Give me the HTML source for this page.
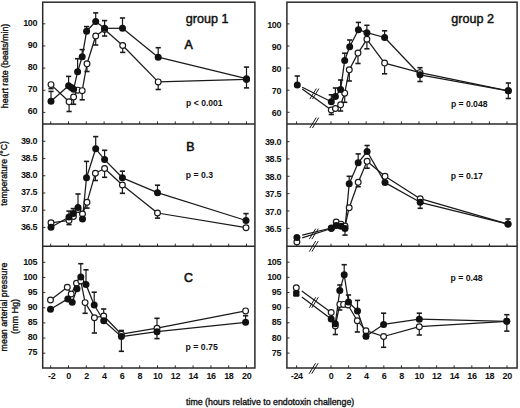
<!DOCTYPE html>
<html><head><meta charset="utf-8"><style>
html,body{margin:0;padding:0;background:#fff;width:520px;height:408px;overflow:hidden}
svg{display:block}
text{font-family:"Liberation Sans",sans-serif;fill:#111}
</style></head><body>
<svg width="520" height="408" viewBox="0 0 520 408">
<rect width="520" height="408" fill="#fff"/>
<rect x="42.7" y="2.2" width="212.20" height="365.80" fill="none" stroke="#2a2a2a" stroke-width="1.5"/>
<line x1="42.70" y1="124.00" x2="254.90" y2="124.00" stroke="#2a2a2a" stroke-width="1.5"/>
<line x1="42.70" y1="246.30" x2="254.90" y2="246.30" stroke="#2a2a2a" stroke-width="1.5"/>
<rect x="286.9" y="2.2" width="230.20" height="365.80" fill="none" stroke="#2a2a2a" stroke-width="1.5"/>
<line x1="286.90" y1="124.00" x2="517.10" y2="124.00" stroke="#2a2a2a" stroke-width="1.5"/>
<line x1="286.90" y1="246.30" x2="517.10" y2="246.30" stroke="#2a2a2a" stroke-width="1.5"/>
<line x1="50.70" y1="124.00" x2="50.70" y2="121.40" stroke="#2a2a2a" stroke-width="1.0"/>
<line x1="68.50" y1="124.00" x2="68.50" y2="121.40" stroke="#2a2a2a" stroke-width="1.0"/>
<line x1="86.30" y1="124.00" x2="86.30" y2="121.40" stroke="#2a2a2a" stroke-width="1.0"/>
<line x1="104.10" y1="124.00" x2="104.10" y2="121.40" stroke="#2a2a2a" stroke-width="1.0"/>
<line x1="121.90" y1="124.00" x2="121.90" y2="121.40" stroke="#2a2a2a" stroke-width="1.0"/>
<line x1="139.70" y1="124.00" x2="139.70" y2="121.40" stroke="#2a2a2a" stroke-width="1.0"/>
<line x1="157.50" y1="124.00" x2="157.50" y2="121.40" stroke="#2a2a2a" stroke-width="1.0"/>
<line x1="175.30" y1="124.00" x2="175.30" y2="121.40" stroke="#2a2a2a" stroke-width="1.0"/>
<line x1="193.10" y1="124.00" x2="193.10" y2="121.40" stroke="#2a2a2a" stroke-width="1.0"/>
<line x1="210.90" y1="124.00" x2="210.90" y2="121.40" stroke="#2a2a2a" stroke-width="1.0"/>
<line x1="228.70" y1="124.00" x2="228.70" y2="121.40" stroke="#2a2a2a" stroke-width="1.0"/>
<line x1="246.50" y1="124.00" x2="246.50" y2="121.40" stroke="#2a2a2a" stroke-width="1.0"/>
<line x1="296.60" y1="124.00" x2="296.60" y2="121.40" stroke="#2a2a2a" stroke-width="1.0"/>
<line x1="331.00" y1="124.00" x2="331.00" y2="121.40" stroke="#2a2a2a" stroke-width="1.0"/>
<line x1="348.60" y1="124.00" x2="348.60" y2="121.40" stroke="#2a2a2a" stroke-width="1.0"/>
<line x1="366.20" y1="124.00" x2="366.20" y2="121.40" stroke="#2a2a2a" stroke-width="1.0"/>
<line x1="383.80" y1="124.00" x2="383.80" y2="121.40" stroke="#2a2a2a" stroke-width="1.0"/>
<line x1="401.40" y1="124.00" x2="401.40" y2="121.40" stroke="#2a2a2a" stroke-width="1.0"/>
<line x1="419.00" y1="124.00" x2="419.00" y2="121.40" stroke="#2a2a2a" stroke-width="1.0"/>
<line x1="436.60" y1="124.00" x2="436.60" y2="121.40" stroke="#2a2a2a" stroke-width="1.0"/>
<line x1="454.20" y1="124.00" x2="454.20" y2="121.40" stroke="#2a2a2a" stroke-width="1.0"/>
<line x1="471.80" y1="124.00" x2="471.80" y2="121.40" stroke="#2a2a2a" stroke-width="1.0"/>
<line x1="489.40" y1="124.00" x2="489.40" y2="121.40" stroke="#2a2a2a" stroke-width="1.0"/>
<line x1="507.00" y1="124.00" x2="507.00" y2="121.40" stroke="#2a2a2a" stroke-width="1.0"/>
<line x1="50.70" y1="246.30" x2="50.70" y2="243.70" stroke="#2a2a2a" stroke-width="1.0"/>
<line x1="68.50" y1="246.30" x2="68.50" y2="243.70" stroke="#2a2a2a" stroke-width="1.0"/>
<line x1="86.30" y1="246.30" x2="86.30" y2="243.70" stroke="#2a2a2a" stroke-width="1.0"/>
<line x1="104.10" y1="246.30" x2="104.10" y2="243.70" stroke="#2a2a2a" stroke-width="1.0"/>
<line x1="121.90" y1="246.30" x2="121.90" y2="243.70" stroke="#2a2a2a" stroke-width="1.0"/>
<line x1="139.70" y1="246.30" x2="139.70" y2="243.70" stroke="#2a2a2a" stroke-width="1.0"/>
<line x1="157.50" y1="246.30" x2="157.50" y2="243.70" stroke="#2a2a2a" stroke-width="1.0"/>
<line x1="175.30" y1="246.30" x2="175.30" y2="243.70" stroke="#2a2a2a" stroke-width="1.0"/>
<line x1="193.10" y1="246.30" x2="193.10" y2="243.70" stroke="#2a2a2a" stroke-width="1.0"/>
<line x1="210.90" y1="246.30" x2="210.90" y2="243.70" stroke="#2a2a2a" stroke-width="1.0"/>
<line x1="228.70" y1="246.30" x2="228.70" y2="243.70" stroke="#2a2a2a" stroke-width="1.0"/>
<line x1="246.50" y1="246.30" x2="246.50" y2="243.70" stroke="#2a2a2a" stroke-width="1.0"/>
<line x1="296.60" y1="246.30" x2="296.60" y2="243.70" stroke="#2a2a2a" stroke-width="1.0"/>
<line x1="331.00" y1="246.30" x2="331.00" y2="243.70" stroke="#2a2a2a" stroke-width="1.0"/>
<line x1="348.60" y1="246.30" x2="348.60" y2="243.70" stroke="#2a2a2a" stroke-width="1.0"/>
<line x1="366.20" y1="246.30" x2="366.20" y2="243.70" stroke="#2a2a2a" stroke-width="1.0"/>
<line x1="383.80" y1="246.30" x2="383.80" y2="243.70" stroke="#2a2a2a" stroke-width="1.0"/>
<line x1="401.40" y1="246.30" x2="401.40" y2="243.70" stroke="#2a2a2a" stroke-width="1.0"/>
<line x1="419.00" y1="246.30" x2="419.00" y2="243.70" stroke="#2a2a2a" stroke-width="1.0"/>
<line x1="436.60" y1="246.30" x2="436.60" y2="243.70" stroke="#2a2a2a" stroke-width="1.0"/>
<line x1="454.20" y1="246.30" x2="454.20" y2="243.70" stroke="#2a2a2a" stroke-width="1.0"/>
<line x1="471.80" y1="246.30" x2="471.80" y2="243.70" stroke="#2a2a2a" stroke-width="1.0"/>
<line x1="489.40" y1="246.30" x2="489.40" y2="243.70" stroke="#2a2a2a" stroke-width="1.0"/>
<line x1="507.00" y1="246.30" x2="507.00" y2="243.70" stroke="#2a2a2a" stroke-width="1.0"/>
<line x1="50.70" y1="368.00" x2="50.70" y2="365.40" stroke="#2a2a2a" stroke-width="1.0"/>
<line x1="68.50" y1="368.00" x2="68.50" y2="365.40" stroke="#2a2a2a" stroke-width="1.0"/>
<line x1="86.30" y1="368.00" x2="86.30" y2="365.40" stroke="#2a2a2a" stroke-width="1.0"/>
<line x1="104.10" y1="368.00" x2="104.10" y2="365.40" stroke="#2a2a2a" stroke-width="1.0"/>
<line x1="121.90" y1="368.00" x2="121.90" y2="365.40" stroke="#2a2a2a" stroke-width="1.0"/>
<line x1="139.70" y1="368.00" x2="139.70" y2="365.40" stroke="#2a2a2a" stroke-width="1.0"/>
<line x1="157.50" y1="368.00" x2="157.50" y2="365.40" stroke="#2a2a2a" stroke-width="1.0"/>
<line x1="175.30" y1="368.00" x2="175.30" y2="365.40" stroke="#2a2a2a" stroke-width="1.0"/>
<line x1="193.10" y1="368.00" x2="193.10" y2="365.40" stroke="#2a2a2a" stroke-width="1.0"/>
<line x1="210.90" y1="368.00" x2="210.90" y2="365.40" stroke="#2a2a2a" stroke-width="1.0"/>
<line x1="228.70" y1="368.00" x2="228.70" y2="365.40" stroke="#2a2a2a" stroke-width="1.0"/>
<line x1="246.50" y1="368.00" x2="246.50" y2="365.40" stroke="#2a2a2a" stroke-width="1.0"/>
<line x1="296.60" y1="368.00" x2="296.60" y2="365.40" stroke="#2a2a2a" stroke-width="1.0"/>
<line x1="331.00" y1="368.00" x2="331.00" y2="365.40" stroke="#2a2a2a" stroke-width="1.0"/>
<line x1="348.60" y1="368.00" x2="348.60" y2="365.40" stroke="#2a2a2a" stroke-width="1.0"/>
<line x1="366.20" y1="368.00" x2="366.20" y2="365.40" stroke="#2a2a2a" stroke-width="1.0"/>
<line x1="383.80" y1="368.00" x2="383.80" y2="365.40" stroke="#2a2a2a" stroke-width="1.0"/>
<line x1="401.40" y1="368.00" x2="401.40" y2="365.40" stroke="#2a2a2a" stroke-width="1.0"/>
<line x1="419.00" y1="368.00" x2="419.00" y2="365.40" stroke="#2a2a2a" stroke-width="1.0"/>
<line x1="436.60" y1="368.00" x2="436.60" y2="365.40" stroke="#2a2a2a" stroke-width="1.0"/>
<line x1="454.20" y1="368.00" x2="454.20" y2="365.40" stroke="#2a2a2a" stroke-width="1.0"/>
<line x1="471.80" y1="368.00" x2="471.80" y2="365.40" stroke="#2a2a2a" stroke-width="1.0"/>
<line x1="489.40" y1="368.00" x2="489.40" y2="365.40" stroke="#2a2a2a" stroke-width="1.0"/>
<line x1="507.00" y1="368.00" x2="507.00" y2="365.40" stroke="#2a2a2a" stroke-width="1.0"/>
<text x="51.77" y="379.30" font-size="9.0" font-weight="bold" text-anchor="middle" letter-spacing="-0.35" >-2</text>
<text x="68.67" y="379.30" font-size="9.0" font-weight="bold" text-anchor="middle" letter-spacing="-0.35" >0</text>
<text x="86.47" y="379.30" font-size="9.0" font-weight="bold" text-anchor="middle" letter-spacing="-0.35" >2</text>
<text x="104.27" y="379.30" font-size="9.0" font-weight="bold" text-anchor="middle" letter-spacing="-0.35" >4</text>
<text x="122.08" y="379.30" font-size="9.0" font-weight="bold" text-anchor="middle" letter-spacing="-0.35" >6</text>
<text x="139.88" y="379.30" font-size="9.0" font-weight="bold" text-anchor="middle" letter-spacing="-0.35" >8</text>
<text x="157.68" y="379.30" font-size="9.0" font-weight="bold" text-anchor="middle" letter-spacing="-0.35" >10</text>
<text x="175.48" y="379.30" font-size="9.0" font-weight="bold" text-anchor="middle" letter-spacing="-0.35" >12</text>
<text x="193.28" y="379.30" font-size="9.0" font-weight="bold" text-anchor="middle" letter-spacing="-0.35" >14</text>
<text x="211.08" y="379.30" font-size="9.0" font-weight="bold" text-anchor="middle" letter-spacing="-0.35" >16</text>
<text x="228.88" y="379.30" font-size="9.0" font-weight="bold" text-anchor="middle" letter-spacing="-0.35" >18</text>
<text x="246.68" y="379.30" font-size="9.0" font-weight="bold" text-anchor="middle" letter-spacing="-0.35" >20</text>
<text x="296.78" y="379.30" font-size="9.0" font-weight="bold" text-anchor="middle" letter-spacing="-0.35" >-24</text>
<text x="331.18" y="379.30" font-size="9.0" font-weight="bold" text-anchor="middle" letter-spacing="-0.35" >0</text>
<text x="348.78" y="379.30" font-size="9.0" font-weight="bold" text-anchor="middle" letter-spacing="-0.35" >2</text>
<text x="366.38" y="379.30" font-size="9.0" font-weight="bold" text-anchor="middle" letter-spacing="-0.35" >4</text>
<text x="383.98" y="379.30" font-size="9.0" font-weight="bold" text-anchor="middle" letter-spacing="-0.35" >6</text>
<text x="401.57" y="379.30" font-size="9.0" font-weight="bold" text-anchor="middle" letter-spacing="-0.35" >8</text>
<text x="419.18" y="379.30" font-size="9.0" font-weight="bold" text-anchor="middle" letter-spacing="-0.35" >10</text>
<text x="436.78" y="379.30" font-size="9.0" font-weight="bold" text-anchor="middle" letter-spacing="-0.35" >12</text>
<text x="454.38" y="379.30" font-size="9.0" font-weight="bold" text-anchor="middle" letter-spacing="-0.35" >14</text>
<text x="471.98" y="379.30" font-size="9.0" font-weight="bold" text-anchor="middle" letter-spacing="-0.35" >16</text>
<text x="489.57" y="379.30" font-size="9.0" font-weight="bold" text-anchor="middle" letter-spacing="-0.35" >18</text>
<text x="507.18" y="379.30" font-size="9.0" font-weight="bold" text-anchor="middle" letter-spacing="-0.35" >20</text>
<line x1="42.70" y1="112.40" x2="45.30" y2="112.40" stroke="#2a2a2a" stroke-width="1.0"/>
<text x="37.10" y="114.40" font-size="9.0" font-weight="bold" text-anchor="end" letter-spacing="-0.35" >60</text>
<line x1="286.90" y1="112.30" x2="289.50" y2="112.30" stroke="#2a2a2a" stroke-width="1.0"/>
<text x="281.10" y="116.40" font-size="9.0" font-weight="bold" text-anchor="end" letter-spacing="-0.35" >60</text>
<line x1="42.70" y1="90.25" x2="45.30" y2="90.25" stroke="#2a2a2a" stroke-width="1.0"/>
<text x="37.10" y="92.25" font-size="9.0" font-weight="bold" text-anchor="end" letter-spacing="-0.35" >70</text>
<line x1="286.90" y1="90.20" x2="289.50" y2="90.20" stroke="#2a2a2a" stroke-width="1.0"/>
<text x="281.10" y="94.30" font-size="9.0" font-weight="bold" text-anchor="end" letter-spacing="-0.35" >70</text>
<line x1="42.70" y1="68.10" x2="45.30" y2="68.10" stroke="#2a2a2a" stroke-width="1.0"/>
<text x="37.10" y="70.10" font-size="9.0" font-weight="bold" text-anchor="end" letter-spacing="-0.35" >80</text>
<line x1="286.90" y1="68.10" x2="289.50" y2="68.10" stroke="#2a2a2a" stroke-width="1.0"/>
<text x="281.10" y="72.20" font-size="9.0" font-weight="bold" text-anchor="end" letter-spacing="-0.35" >80</text>
<line x1="42.70" y1="45.95" x2="45.30" y2="45.95" stroke="#2a2a2a" stroke-width="1.0"/>
<text x="37.10" y="47.95" font-size="9.0" font-weight="bold" text-anchor="end" letter-spacing="-0.35" >90</text>
<line x1="286.90" y1="46.00" x2="289.50" y2="46.00" stroke="#2a2a2a" stroke-width="1.0"/>
<text x="281.10" y="50.10" font-size="9.0" font-weight="bold" text-anchor="end" letter-spacing="-0.35" >90</text>
<line x1="42.70" y1="23.80" x2="45.30" y2="23.80" stroke="#2a2a2a" stroke-width="1.0"/>
<text x="37.10" y="25.80" font-size="9.0" font-weight="bold" text-anchor="end" letter-spacing="-0.35" >100</text>
<line x1="286.90" y1="23.90" x2="289.50" y2="23.90" stroke="#2a2a2a" stroke-width="1.0"/>
<text x="281.10" y="28.00" font-size="9.0" font-weight="bold" text-anchor="end" letter-spacing="-0.35" >100</text>
<line x1="42.70" y1="227.43" x2="45.30" y2="227.43" stroke="#2a2a2a" stroke-width="1.0"/>
<text x="37.10" y="229.62" font-size="9.0" font-weight="bold" text-anchor="end" letter-spacing="-0.35" >36.5</text>
<line x1="286.90" y1="228.35" x2="289.50" y2="228.35" stroke="#2a2a2a" stroke-width="1.0"/>
<text x="281.10" y="231.85" font-size="9.0" font-weight="bold" text-anchor="end" letter-spacing="-0.35" >36.5</text>
<line x1="42.70" y1="210.20" x2="45.30" y2="210.20" stroke="#2a2a2a" stroke-width="1.0"/>
<text x="37.10" y="212.40" font-size="9.0" font-weight="bold" text-anchor="end" letter-spacing="-0.35" >37.0</text>
<line x1="286.90" y1="211.00" x2="289.50" y2="211.00" stroke="#2a2a2a" stroke-width="1.0"/>
<text x="281.10" y="214.50" font-size="9.0" font-weight="bold" text-anchor="end" letter-spacing="-0.35" >37.0</text>
<line x1="42.70" y1="192.98" x2="45.30" y2="192.98" stroke="#2a2a2a" stroke-width="1.0"/>
<text x="37.10" y="195.18" font-size="9.0" font-weight="bold" text-anchor="end" letter-spacing="-0.35" >37.5</text>
<line x1="286.90" y1="193.65" x2="289.50" y2="193.65" stroke="#2a2a2a" stroke-width="1.0"/>
<text x="281.10" y="197.15" font-size="9.0" font-weight="bold" text-anchor="end" letter-spacing="-0.35" >37.5</text>
<line x1="42.70" y1="175.75" x2="45.30" y2="175.75" stroke="#2a2a2a" stroke-width="1.0"/>
<text x="37.10" y="177.95" font-size="9.0" font-weight="bold" text-anchor="end" letter-spacing="-0.35" >38.0</text>
<line x1="286.90" y1="176.30" x2="289.50" y2="176.30" stroke="#2a2a2a" stroke-width="1.0"/>
<text x="281.10" y="179.80" font-size="9.0" font-weight="bold" text-anchor="end" letter-spacing="-0.35" >38.0</text>
<line x1="42.70" y1="158.53" x2="45.30" y2="158.53" stroke="#2a2a2a" stroke-width="1.0"/>
<text x="37.10" y="160.72" font-size="9.0" font-weight="bold" text-anchor="end" letter-spacing="-0.35" >38.5</text>
<line x1="286.90" y1="158.95" x2="289.50" y2="158.95" stroke="#2a2a2a" stroke-width="1.0"/>
<text x="281.10" y="162.45" font-size="9.0" font-weight="bold" text-anchor="end" letter-spacing="-0.35" >38.5</text>
<line x1="42.70" y1="141.30" x2="45.30" y2="141.30" stroke="#2a2a2a" stroke-width="1.0"/>
<text x="37.10" y="143.50" font-size="9.0" font-weight="bold" text-anchor="end" letter-spacing="-0.35" >39.0</text>
<line x1="286.90" y1="141.60" x2="289.50" y2="141.60" stroke="#2a2a2a" stroke-width="1.0"/>
<text x="281.10" y="145.10" font-size="9.0" font-weight="bold" text-anchor="end" letter-spacing="-0.35" >39.0</text>
<line x1="42.70" y1="353.20" x2="45.30" y2="353.20" stroke="#2a2a2a" stroke-width="1.0"/>
<text x="37.10" y="355.40" font-size="9.0" font-weight="bold" text-anchor="end" letter-spacing="-0.35" >75</text>
<line x1="286.90" y1="353.10" x2="289.50" y2="353.10" stroke="#2a2a2a" stroke-width="1.0"/>
<text x="281.10" y="355.70" font-size="9.0" font-weight="bold" text-anchor="end" letter-spacing="-0.35" >75</text>
<line x1="42.70" y1="338.05" x2="45.30" y2="338.05" stroke="#2a2a2a" stroke-width="1.0"/>
<text x="37.10" y="340.25" font-size="9.0" font-weight="bold" text-anchor="end" letter-spacing="-0.35" >80</text>
<line x1="286.90" y1="337.95" x2="289.50" y2="337.95" stroke="#2a2a2a" stroke-width="1.0"/>
<text x="281.10" y="340.55" font-size="9.0" font-weight="bold" text-anchor="end" letter-spacing="-0.35" >80</text>
<line x1="42.70" y1="322.90" x2="45.30" y2="322.90" stroke="#2a2a2a" stroke-width="1.0"/>
<text x="37.10" y="325.10" font-size="9.0" font-weight="bold" text-anchor="end" letter-spacing="-0.35" >85</text>
<line x1="286.90" y1="322.80" x2="289.50" y2="322.80" stroke="#2a2a2a" stroke-width="1.0"/>
<text x="281.10" y="325.40" font-size="9.0" font-weight="bold" text-anchor="end" letter-spacing="-0.35" >85</text>
<line x1="42.70" y1="307.75" x2="45.30" y2="307.75" stroke="#2a2a2a" stroke-width="1.0"/>
<text x="37.10" y="309.95" font-size="9.0" font-weight="bold" text-anchor="end" letter-spacing="-0.35" >90</text>
<line x1="286.90" y1="307.65" x2="289.50" y2="307.65" stroke="#2a2a2a" stroke-width="1.0"/>
<text x="281.10" y="310.25" font-size="9.0" font-weight="bold" text-anchor="end" letter-spacing="-0.35" >90</text>
<line x1="42.70" y1="292.60" x2="45.30" y2="292.60" stroke="#2a2a2a" stroke-width="1.0"/>
<text x="37.10" y="294.80" font-size="9.0" font-weight="bold" text-anchor="end" letter-spacing="-0.35" >95</text>
<line x1="286.90" y1="292.50" x2="289.50" y2="292.50" stroke="#2a2a2a" stroke-width="1.0"/>
<text x="281.10" y="295.10" font-size="9.0" font-weight="bold" text-anchor="end" letter-spacing="-0.35" >95</text>
<line x1="42.70" y1="277.45" x2="45.30" y2="277.45" stroke="#2a2a2a" stroke-width="1.0"/>
<text x="37.10" y="279.65" font-size="9.0" font-weight="bold" text-anchor="end" letter-spacing="-0.35" >100</text>
<line x1="286.90" y1="277.35" x2="289.50" y2="277.35" stroke="#2a2a2a" stroke-width="1.0"/>
<text x="281.10" y="279.95" font-size="9.0" font-weight="bold" text-anchor="end" letter-spacing="-0.35" >100</text>
<line x1="42.70" y1="262.30" x2="45.30" y2="262.30" stroke="#2a2a2a" stroke-width="1.0"/>
<text x="37.10" y="264.50" font-size="9.0" font-weight="bold" text-anchor="end" letter-spacing="-0.35" >105</text>
<line x1="286.90" y1="262.20" x2="289.50" y2="262.20" stroke="#2a2a2a" stroke-width="1.0"/>
<text x="281.10" y="264.80" font-size="9.0" font-weight="bold" text-anchor="end" letter-spacing="-0.35" >105</text>
<text x="0.00" y="0.00" font-size="8.85" font-weight="normal" text-anchor="middle" stroke="#111" stroke-width="0.35" transform="translate(7.5,66.0) rotate(-90)">heart rate (beats/min)</text>
<text x="0.00" y="0.00" font-size="8.68" font-weight="normal" text-anchor="middle" stroke="#111" stroke-width="0.35" transform="translate(7.4,173.4) rotate(-90)">temperature (°C)</text>
<text x="0.00" y="0.00" font-size="8.9" font-weight="normal" text-anchor="middle" stroke="#111" stroke-width="0.35" transform="translate(7.3,307.0) rotate(-90)">mean arterial pressure</text>
<text x="0.00" y="0.00" font-size="9.0" font-weight="normal" text-anchor="middle" stroke="#111" stroke-width="0.35" transform="translate(17.6,316.4) rotate(-90)">(mm Hg)</text>
<text x="186.00" y="404.50" font-size="8.8" font-weight="normal" text-anchor="start" stroke="#111" stroke-width="0.35" >time (hours relative to endotoxin challenge)</text>
<text x="185.80" y="22.70" font-size="12.6" font-weight="normal" text-anchor="start" stroke="#111" stroke-width="0.45" >group 1</text>
<text x="451.20" y="23.10" font-size="12.6" font-weight="normal" text-anchor="start" stroke="#111" stroke-width="0.45" >group 2</text>
<text x="188.60" y="48.80" font-size="12.4" font-weight="normal" text-anchor="middle" stroke="#111" stroke-width="0.6" >A</text>
<text x="190.40" y="151.20" font-size="12.4" font-weight="normal" text-anchor="middle" stroke="#111" stroke-width="0.6" >B</text>
<text x="188.50" y="281.80" font-size="12.4" font-weight="normal" text-anchor="middle" stroke="#111" stroke-width="0.6" >C</text>
<text x="186.10" y="106.20" font-size="8.6" font-weight="bold" text-anchor="start" >p &lt; 0.001</text>
<text x="185.70" y="177.50" font-size="8.7" font-weight="bold" text-anchor="start" >p = 0.3</text>
<text x="185.60" y="350.40" font-size="8.7" font-weight="bold" text-anchor="start" >p = 0.75</text>
<text x="450.90" y="106.90" font-size="8.6" font-weight="bold" text-anchor="start" >p = 0.048</text>
<text x="450.80" y="178.60" font-size="8.7" font-weight="bold" text-anchor="start" >p = 0.17</text>
<text x="450.50" y="281.20" font-size="8.7" font-weight="bold" text-anchor="start" >p = 0.48</text>
<line x1="51.00" y1="84.60" x2="69.10" y2="101.80" stroke="#1a1a1a" stroke-width="1.25"/>
<line x1="69.10" y1="101.80" x2="73.60" y2="97.00" stroke="#1a1a1a" stroke-width="1.25"/>
<line x1="73.60" y1="97.00" x2="77.70" y2="90.20" stroke="#1a1a1a" stroke-width="1.25"/>
<line x1="77.70" y1="90.20" x2="82.20" y2="90.70" stroke="#1a1a1a" stroke-width="1.25"/>
<line x1="82.20" y1="90.70" x2="87.00" y2="63.80" stroke="#1a1a1a" stroke-width="1.25"/>
<line x1="87.00" y1="63.80" x2="95.70" y2="36.00" stroke="#1a1a1a" stroke-width="1.25"/>
<line x1="95.70" y1="36.00" x2="104.60" y2="29.50" stroke="#1a1a1a" stroke-width="1.25"/>
<line x1="104.60" y1="29.50" x2="122.70" y2="45.50" stroke="#1a1a1a" stroke-width="1.25"/>
<line x1="122.70" y1="45.50" x2="158.20" y2="81.90" stroke="#1a1a1a" stroke-width="1.25"/>
<line x1="158.20" y1="81.90" x2="246.50" y2="79.40" stroke="#1a1a1a" stroke-width="1.25"/>
<line x1="51.00" y1="101.30" x2="68.60" y2="85.70" stroke="#1a1a1a" stroke-width="1.25"/>
<line x1="68.60" y1="85.70" x2="71.30" y2="87.50" stroke="#1a1a1a" stroke-width="1.25"/>
<line x1="71.30" y1="87.50" x2="73.60" y2="89.30" stroke="#1a1a1a" stroke-width="1.25"/>
<line x1="73.60" y1="89.30" x2="77.60" y2="71.70" stroke="#1a1a1a" stroke-width="1.25"/>
<line x1="77.60" y1="71.70" x2="82.20" y2="56.80" stroke="#1a1a1a" stroke-width="1.25"/>
<line x1="82.20" y1="56.80" x2="86.60" y2="31.20" stroke="#1a1a1a" stroke-width="1.25"/>
<line x1="86.60" y1="31.20" x2="95.70" y2="21.50" stroke="#1a1a1a" stroke-width="1.25"/>
<line x1="95.70" y1="21.50" x2="104.60" y2="28.30" stroke="#1a1a1a" stroke-width="1.25"/>
<line x1="104.60" y1="28.30" x2="122.50" y2="28.30" stroke="#1a1a1a" stroke-width="1.25"/>
<line x1="122.50" y1="28.30" x2="158.20" y2="57.20" stroke="#1a1a1a" stroke-width="1.25"/>
<line x1="158.20" y1="57.20" x2="246.50" y2="78.70" stroke="#1a1a1a" stroke-width="1.25"/>
<line x1="51.00" y1="101.30" x2="51.00" y2="91.40" stroke="#1a1a1a" stroke-width="1.2"/>
<line x1="48.40" y1="91.40" x2="53.60" y2="91.40" stroke="#1a1a1a" stroke-width="1.6"/>
<line x1="68.60" y1="85.70" x2="68.60" y2="76.40" stroke="#1a1a1a" stroke-width="1.2"/>
<line x1="66.00" y1="76.40" x2="71.20" y2="76.40" stroke="#1a1a1a" stroke-width="1.6"/>
<line x1="77.60" y1="71.70" x2="77.60" y2="58.70" stroke="#1a1a1a" stroke-width="1.2"/>
<line x1="75.00" y1="58.70" x2="80.20" y2="58.70" stroke="#1a1a1a" stroke-width="1.6"/>
<line x1="82.20" y1="56.80" x2="82.20" y2="49.60" stroke="#1a1a1a" stroke-width="1.2"/>
<line x1="79.60" y1="49.60" x2="84.80" y2="49.60" stroke="#1a1a1a" stroke-width="1.6"/>
<line x1="86.60" y1="31.20" x2="86.60" y2="26.60" stroke="#1a1a1a" stroke-width="1.2"/>
<line x1="84.00" y1="26.60" x2="89.20" y2="26.60" stroke="#1a1a1a" stroke-width="1.6"/>
<line x1="95.70" y1="21.50" x2="95.70" y2="12.90" stroke="#1a1a1a" stroke-width="1.2"/>
<line x1="93.10" y1="12.90" x2="98.30" y2="12.90" stroke="#1a1a1a" stroke-width="1.6"/>
<line x1="104.60" y1="28.30" x2="104.60" y2="20.60" stroke="#1a1a1a" stroke-width="1.2"/>
<line x1="102.00" y1="20.60" x2="107.20" y2="20.60" stroke="#1a1a1a" stroke-width="1.6"/>
<line x1="122.50" y1="28.30" x2="122.50" y2="18.00" stroke="#1a1a1a" stroke-width="1.2"/>
<line x1="119.90" y1="18.00" x2="125.10" y2="18.00" stroke="#1a1a1a" stroke-width="1.6"/>
<line x1="158.20" y1="57.20" x2="158.20" y2="47.70" stroke="#1a1a1a" stroke-width="1.2"/>
<line x1="155.60" y1="47.70" x2="160.80" y2="47.70" stroke="#1a1a1a" stroke-width="1.6"/>
<line x1="246.50" y1="78.70" x2="246.50" y2="67.10" stroke="#1a1a1a" stroke-width="1.2"/>
<line x1="243.90" y1="67.10" x2="249.10" y2="67.10" stroke="#1a1a1a" stroke-width="1.6"/>
<line x1="51.00" y1="84.60" x2="51.00" y2="88.60" stroke="#1a1a1a" stroke-width="1.2"/>
<line x1="48.40" y1="88.60" x2="53.60" y2="88.60" stroke="#1a1a1a" stroke-width="1.6"/>
<line x1="69.10" y1="101.80" x2="69.10" y2="111.50" stroke="#1a1a1a" stroke-width="1.2"/>
<line x1="66.50" y1="111.50" x2="71.70" y2="111.50" stroke="#1a1a1a" stroke-width="1.6"/>
<line x1="73.60" y1="97.00" x2="73.60" y2="104.30" stroke="#1a1a1a" stroke-width="1.2"/>
<line x1="71.00" y1="104.30" x2="76.20" y2="104.30" stroke="#1a1a1a" stroke-width="1.6"/>
<line x1="82.20" y1="90.70" x2="82.20" y2="99.80" stroke="#1a1a1a" stroke-width="1.2"/>
<line x1="79.60" y1="99.80" x2="84.80" y2="99.80" stroke="#1a1a1a" stroke-width="1.6"/>
<line x1="87.00" y1="63.80" x2="87.00" y2="71.50" stroke="#1a1a1a" stroke-width="1.2"/>
<line x1="84.40" y1="71.50" x2="89.60" y2="71.50" stroke="#1a1a1a" stroke-width="1.6"/>
<line x1="95.70" y1="36.00" x2="95.70" y2="45.00" stroke="#1a1a1a" stroke-width="1.2"/>
<line x1="93.10" y1="45.00" x2="98.30" y2="45.00" stroke="#1a1a1a" stroke-width="1.6"/>
<line x1="104.60" y1="29.50" x2="104.60" y2="36.00" stroke="#1a1a1a" stroke-width="1.2"/>
<line x1="102.00" y1="36.00" x2="107.20" y2="36.00" stroke="#1a1a1a" stroke-width="1.6"/>
<line x1="122.70" y1="45.50" x2="122.70" y2="52.40" stroke="#1a1a1a" stroke-width="1.2"/>
<line x1="120.10" y1="52.40" x2="125.30" y2="52.40" stroke="#1a1a1a" stroke-width="1.6"/>
<line x1="158.20" y1="81.90" x2="158.20" y2="89.50" stroke="#1a1a1a" stroke-width="1.2"/>
<line x1="155.60" y1="89.50" x2="160.80" y2="89.50" stroke="#1a1a1a" stroke-width="1.6"/>
<line x1="246.50" y1="78.70" x2="246.50" y2="87.90" stroke="#1a1a1a" stroke-width="1.2"/>
<line x1="243.90" y1="87.90" x2="249.10" y2="87.90" stroke="#1a1a1a" stroke-width="1.6"/>
<circle cx="51.00" cy="84.60" r="2.9" fill="#fff" stroke="#1a1a1a" stroke-width="1.15"/>
<circle cx="69.10" cy="101.80" r="2.9" fill="#fff" stroke="#1a1a1a" stroke-width="1.15"/>
<circle cx="73.60" cy="97.00" r="2.9" fill="#fff" stroke="#1a1a1a" stroke-width="1.15"/>
<circle cx="77.70" cy="90.20" r="2.9" fill="#fff" stroke="#1a1a1a" stroke-width="1.15"/>
<circle cx="82.20" cy="90.70" r="2.9" fill="#fff" stroke="#1a1a1a" stroke-width="1.15"/>
<circle cx="87.00" cy="63.80" r="2.9" fill="#fff" stroke="#1a1a1a" stroke-width="1.15"/>
<circle cx="95.70" cy="36.00" r="2.9" fill="#fff" stroke="#1a1a1a" stroke-width="1.15"/>
<circle cx="104.60" cy="29.50" r="2.9" fill="#fff" stroke="#1a1a1a" stroke-width="1.15"/>
<circle cx="122.70" cy="45.50" r="2.9" fill="#fff" stroke="#1a1a1a" stroke-width="1.15"/>
<circle cx="158.20" cy="81.90" r="2.9" fill="#fff" stroke="#1a1a1a" stroke-width="1.15"/>
<circle cx="246.50" cy="79.40" r="2.9" fill="#fff" stroke="#1a1a1a" stroke-width="1.15"/>
<circle cx="51.00" cy="101.30" r="3.5" fill="#111"/>
<circle cx="68.60" cy="85.70" r="3.5" fill="#111"/>
<circle cx="71.30" cy="87.50" r="3.5" fill="#111"/>
<circle cx="73.60" cy="89.30" r="3.5" fill="#111"/>
<circle cx="77.60" cy="71.70" r="3.5" fill="#111"/>
<circle cx="82.20" cy="56.80" r="3.5" fill="#111"/>
<circle cx="86.60" cy="31.20" r="3.5" fill="#111"/>
<circle cx="95.70" cy="21.50" r="3.5" fill="#111"/>
<circle cx="104.60" cy="28.30" r="3.5" fill="#111"/>
<circle cx="122.50" cy="28.30" r="3.5" fill="#111"/>
<circle cx="158.20" cy="57.20" r="3.5" fill="#111"/>
<circle cx="246.50" cy="78.70" r="3.5" fill="#111"/>
<line x1="302.20" y1="87.30" x2="331.30" y2="101.70" stroke="#1a1a1a" stroke-width="1.25"/>
<line x1="302.20" y1="89.00" x2="331.30" y2="110.00" stroke="#1a1a1a" stroke-width="1.25"/>
<line x1="331.30" y1="110.00" x2="335.40" y2="108.50" stroke="#1a1a1a" stroke-width="1.25"/>
<line x1="335.40" y1="108.50" x2="340.60" y2="104.80" stroke="#1a1a1a" stroke-width="1.25"/>
<line x1="340.60" y1="104.80" x2="344.70" y2="93.20" stroke="#1a1a1a" stroke-width="1.25"/>
<line x1="344.70" y1="93.20" x2="349.30" y2="69.80" stroke="#1a1a1a" stroke-width="1.25"/>
<line x1="349.30" y1="69.80" x2="358.00" y2="53.10" stroke="#1a1a1a" stroke-width="1.25"/>
<line x1="358.00" y1="53.10" x2="366.90" y2="39.30" stroke="#1a1a1a" stroke-width="1.25"/>
<line x1="366.90" y1="39.30" x2="384.60" y2="63.10" stroke="#1a1a1a" stroke-width="1.25"/>
<line x1="384.60" y1="63.10" x2="420.00" y2="72.60" stroke="#1a1a1a" stroke-width="1.25"/>
<line x1="420.00" y1="72.60" x2="508.30" y2="90.80" stroke="#1a1a1a" stroke-width="1.25"/>
<line x1="331.30" y1="101.70" x2="335.40" y2="96.60" stroke="#1a1a1a" stroke-width="1.25"/>
<line x1="335.40" y1="96.60" x2="340.60" y2="89.40" stroke="#1a1a1a" stroke-width="1.25"/>
<line x1="340.60" y1="89.40" x2="344.70" y2="60.40" stroke="#1a1a1a" stroke-width="1.25"/>
<line x1="344.70" y1="60.40" x2="349.70" y2="46.80" stroke="#1a1a1a" stroke-width="1.25"/>
<line x1="349.70" y1="46.80" x2="358.40" y2="29.70" stroke="#1a1a1a" stroke-width="1.25"/>
<line x1="358.40" y1="29.70" x2="366.90" y2="32.70" stroke="#1a1a1a" stroke-width="1.25"/>
<line x1="366.90" y1="32.70" x2="384.60" y2="37.50" stroke="#1a1a1a" stroke-width="1.25"/>
<line x1="384.60" y1="37.50" x2="420.00" y2="74.80" stroke="#1a1a1a" stroke-width="1.25"/>
<line x1="420.00" y1="74.80" x2="508.30" y2="90.80" stroke="#1a1a1a" stroke-width="1.25"/>
<line x1="297.30" y1="85.10" x2="297.30" y2="76.00" stroke="#1a1a1a" stroke-width="1.2"/>
<line x1="294.70" y1="76.00" x2="299.90" y2="76.00" stroke="#1a1a1a" stroke-width="1.6"/>
<line x1="331.30" y1="101.70" x2="331.30" y2="94.80" stroke="#1a1a1a" stroke-width="1.2"/>
<line x1="328.70" y1="94.80" x2="333.90" y2="94.80" stroke="#1a1a1a" stroke-width="1.6"/>
<line x1="335.40" y1="96.60" x2="335.40" y2="88.00" stroke="#1a1a1a" stroke-width="1.2"/>
<line x1="332.80" y1="88.00" x2="338.00" y2="88.00" stroke="#1a1a1a" stroke-width="1.6"/>
<line x1="340.60" y1="89.40" x2="340.60" y2="80.00" stroke="#1a1a1a" stroke-width="1.2"/>
<line x1="338.00" y1="80.00" x2="343.20" y2="80.00" stroke="#1a1a1a" stroke-width="1.6"/>
<line x1="344.70" y1="60.40" x2="344.70" y2="53.20" stroke="#1a1a1a" stroke-width="1.2"/>
<line x1="342.10" y1="53.20" x2="347.30" y2="53.20" stroke="#1a1a1a" stroke-width="1.6"/>
<line x1="349.70" y1="46.80" x2="349.70" y2="40.00" stroke="#1a1a1a" stroke-width="1.2"/>
<line x1="347.10" y1="40.00" x2="352.30" y2="40.00" stroke="#1a1a1a" stroke-width="1.6"/>
<line x1="358.40" y1="29.70" x2="358.40" y2="22.40" stroke="#1a1a1a" stroke-width="1.2"/>
<line x1="355.80" y1="22.40" x2="361.00" y2="22.40" stroke="#1a1a1a" stroke-width="1.6"/>
<line x1="366.90" y1="32.70" x2="366.90" y2="25.30" stroke="#1a1a1a" stroke-width="1.2"/>
<line x1="364.30" y1="25.30" x2="369.50" y2="25.30" stroke="#1a1a1a" stroke-width="1.6"/>
<line x1="384.60" y1="37.50" x2="384.60" y2="30.80" stroke="#1a1a1a" stroke-width="1.2"/>
<line x1="382.00" y1="30.80" x2="387.20" y2="30.80" stroke="#1a1a1a" stroke-width="1.6"/>
<line x1="420.00" y1="74.80" x2="420.00" y2="67.70" stroke="#1a1a1a" stroke-width="1.2"/>
<line x1="417.40" y1="67.70" x2="422.60" y2="67.70" stroke="#1a1a1a" stroke-width="1.6"/>
<line x1="508.30" y1="90.80" x2="508.30" y2="83.00" stroke="#1a1a1a" stroke-width="1.2"/>
<line x1="505.70" y1="83.00" x2="510.90" y2="83.00" stroke="#1a1a1a" stroke-width="1.6"/>
<line x1="331.30" y1="110.00" x2="331.30" y2="114.50" stroke="#1a1a1a" stroke-width="1.2"/>
<line x1="328.70" y1="114.50" x2="333.90" y2="114.50" stroke="#1a1a1a" stroke-width="1.6"/>
<line x1="340.60" y1="104.80" x2="340.60" y2="111.00" stroke="#1a1a1a" stroke-width="1.2"/>
<line x1="338.00" y1="111.00" x2="343.20" y2="111.00" stroke="#1a1a1a" stroke-width="1.6"/>
<line x1="344.70" y1="93.20" x2="344.70" y2="102.30" stroke="#1a1a1a" stroke-width="1.2"/>
<line x1="342.10" y1="102.30" x2="347.30" y2="102.30" stroke="#1a1a1a" stroke-width="1.6"/>
<line x1="349.30" y1="69.80" x2="349.30" y2="81.00" stroke="#1a1a1a" stroke-width="1.2"/>
<line x1="346.70" y1="81.00" x2="351.90" y2="81.00" stroke="#1a1a1a" stroke-width="1.6"/>
<line x1="358.00" y1="53.10" x2="358.00" y2="63.50" stroke="#1a1a1a" stroke-width="1.2"/>
<line x1="355.40" y1="63.50" x2="360.60" y2="63.50" stroke="#1a1a1a" stroke-width="1.6"/>
<line x1="366.90" y1="39.30" x2="366.90" y2="48.80" stroke="#1a1a1a" stroke-width="1.2"/>
<line x1="364.30" y1="48.80" x2="369.50" y2="48.80" stroke="#1a1a1a" stroke-width="1.6"/>
<line x1="384.60" y1="63.10" x2="384.60" y2="73.80" stroke="#1a1a1a" stroke-width="1.2"/>
<line x1="382.00" y1="73.80" x2="387.20" y2="73.80" stroke="#1a1a1a" stroke-width="1.6"/>
<line x1="420.00" y1="72.60" x2="420.00" y2="81.50" stroke="#1a1a1a" stroke-width="1.2"/>
<line x1="417.40" y1="81.50" x2="422.60" y2="81.50" stroke="#1a1a1a" stroke-width="1.6"/>
<line x1="508.30" y1="90.80" x2="508.30" y2="98.50" stroke="#1a1a1a" stroke-width="1.2"/>
<line x1="505.70" y1="98.50" x2="510.90" y2="98.50" stroke="#1a1a1a" stroke-width="1.6"/>
<circle cx="331.30" cy="110.00" r="2.9" fill="#fff" stroke="#1a1a1a" stroke-width="1.15"/>
<circle cx="335.40" cy="108.50" r="2.9" fill="#fff" stroke="#1a1a1a" stroke-width="1.15"/>
<circle cx="340.60" cy="104.80" r="2.9" fill="#fff" stroke="#1a1a1a" stroke-width="1.15"/>
<circle cx="344.70" cy="93.20" r="2.9" fill="#fff" stroke="#1a1a1a" stroke-width="1.15"/>
<circle cx="349.30" cy="69.80" r="2.9" fill="#fff" stroke="#1a1a1a" stroke-width="1.15"/>
<circle cx="358.00" cy="53.10" r="2.9" fill="#fff" stroke="#1a1a1a" stroke-width="1.15"/>
<circle cx="366.90" cy="39.30" r="2.9" fill="#fff" stroke="#1a1a1a" stroke-width="1.15"/>
<circle cx="384.60" cy="63.10" r="2.9" fill="#fff" stroke="#1a1a1a" stroke-width="1.15"/>
<circle cx="420.00" cy="72.60" r="2.9" fill="#fff" stroke="#1a1a1a" stroke-width="1.15"/>
<circle cx="508.30" cy="90.80" r="2.9" fill="#fff" stroke="#1a1a1a" stroke-width="1.15"/>
<circle cx="331.30" cy="101.70" r="3.5" fill="#111"/>
<circle cx="335.40" cy="96.60" r="3.5" fill="#111"/>
<circle cx="340.60" cy="89.40" r="3.5" fill="#111"/>
<circle cx="344.70" cy="60.40" r="3.5" fill="#111"/>
<circle cx="349.70" cy="46.80" r="3.5" fill="#111"/>
<circle cx="358.40" cy="29.70" r="3.5" fill="#111"/>
<circle cx="366.90" cy="32.70" r="3.5" fill="#111"/>
<circle cx="384.60" cy="37.50" r="3.5" fill="#111"/>
<circle cx="420.00" cy="74.80" r="3.5" fill="#111"/>
<circle cx="508.30" cy="90.80" r="3.5" fill="#111"/>
<circle cx="297.30" cy="85.10" r="3.5" fill="#111"/>
<line x1="309.90" y1="99.05" x2="316.30" y2="88.55" stroke="#1a1a1a" stroke-width="1.0"/>
<line x1="312.50" y1="99.05" x2="318.90" y2="88.55" stroke="#1a1a1a" stroke-width="1.0"/>
<line x1="51.00" y1="222.80" x2="69.00" y2="220.40" stroke="#1a1a1a" stroke-width="1.25"/>
<line x1="69.00" y1="220.40" x2="73.40" y2="216.50" stroke="#1a1a1a" stroke-width="1.25"/>
<line x1="73.40" y1="216.50" x2="78.00" y2="209.50" stroke="#1a1a1a" stroke-width="1.25"/>
<line x1="78.00" y1="209.50" x2="82.50" y2="214.00" stroke="#1a1a1a" stroke-width="1.25"/>
<line x1="82.50" y1="214.00" x2="87.00" y2="202.30" stroke="#1a1a1a" stroke-width="1.25"/>
<line x1="87.00" y1="202.30" x2="95.40" y2="173.20" stroke="#1a1a1a" stroke-width="1.25"/>
<line x1="95.40" y1="173.20" x2="104.60" y2="168.50" stroke="#1a1a1a" stroke-width="1.25"/>
<line x1="104.60" y1="168.50" x2="122.40" y2="185.00" stroke="#1a1a1a" stroke-width="1.25"/>
<line x1="122.40" y1="185.00" x2="157.50" y2="213.00" stroke="#1a1a1a" stroke-width="1.25"/>
<line x1="157.50" y1="213.00" x2="246.00" y2="227.70" stroke="#1a1a1a" stroke-width="1.25"/>
<line x1="51.00" y1="227.30" x2="69.00" y2="217.00" stroke="#1a1a1a" stroke-width="1.25"/>
<line x1="69.00" y1="217.00" x2="73.30" y2="213.50" stroke="#1a1a1a" stroke-width="1.25"/>
<line x1="73.30" y1="213.50" x2="78.00" y2="207.60" stroke="#1a1a1a" stroke-width="1.25"/>
<line x1="78.00" y1="207.60" x2="82.50" y2="218.90" stroke="#1a1a1a" stroke-width="1.25"/>
<line x1="82.50" y1="218.90" x2="86.50" y2="177.70" stroke="#1a1a1a" stroke-width="1.25"/>
<line x1="86.50" y1="177.70" x2="95.70" y2="148.80" stroke="#1a1a1a" stroke-width="1.25"/>
<line x1="95.70" y1="148.80" x2="104.60" y2="159.60" stroke="#1a1a1a" stroke-width="1.25"/>
<line x1="104.60" y1="159.60" x2="122.40" y2="177.80" stroke="#1a1a1a" stroke-width="1.25"/>
<line x1="122.40" y1="177.80" x2="157.50" y2="192.70" stroke="#1a1a1a" stroke-width="1.25"/>
<line x1="157.50" y1="192.70" x2="246.00" y2="220.50" stroke="#1a1a1a" stroke-width="1.25"/>
<line x1="69.00" y1="217.00" x2="69.00" y2="211.10" stroke="#1a1a1a" stroke-width="1.2"/>
<line x1="66.40" y1="211.10" x2="71.60" y2="211.10" stroke="#1a1a1a" stroke-width="1.6"/>
<line x1="73.30" y1="213.50" x2="73.30" y2="208.60" stroke="#1a1a1a" stroke-width="1.2"/>
<line x1="70.70" y1="208.60" x2="75.90" y2="208.60" stroke="#1a1a1a" stroke-width="1.6"/>
<line x1="78.00" y1="207.60" x2="78.00" y2="194.00" stroke="#1a1a1a" stroke-width="1.2"/>
<line x1="75.40" y1="194.00" x2="80.60" y2="194.00" stroke="#1a1a1a" stroke-width="1.6"/>
<line x1="86.50" y1="177.70" x2="86.50" y2="161.40" stroke="#1a1a1a" stroke-width="1.2"/>
<line x1="83.90" y1="161.40" x2="89.10" y2="161.40" stroke="#1a1a1a" stroke-width="1.6"/>
<line x1="95.70" y1="148.80" x2="95.70" y2="136.60" stroke="#1a1a1a" stroke-width="1.2"/>
<line x1="93.10" y1="136.60" x2="98.30" y2="136.60" stroke="#1a1a1a" stroke-width="1.6"/>
<line x1="104.60" y1="159.60" x2="104.60" y2="150.30" stroke="#1a1a1a" stroke-width="1.2"/>
<line x1="102.00" y1="150.30" x2="107.20" y2="150.30" stroke="#1a1a1a" stroke-width="1.6"/>
<line x1="122.40" y1="177.80" x2="122.40" y2="171.20" stroke="#1a1a1a" stroke-width="1.2"/>
<line x1="119.80" y1="171.20" x2="125.00" y2="171.20" stroke="#1a1a1a" stroke-width="1.6"/>
<line x1="157.50" y1="192.70" x2="157.50" y2="185.20" stroke="#1a1a1a" stroke-width="1.2"/>
<line x1="154.90" y1="185.20" x2="160.10" y2="185.20" stroke="#1a1a1a" stroke-width="1.6"/>
<line x1="246.00" y1="220.50" x2="246.00" y2="213.60" stroke="#1a1a1a" stroke-width="1.2"/>
<line x1="243.40" y1="213.60" x2="248.60" y2="213.60" stroke="#1a1a1a" stroke-width="1.6"/>
<line x1="69.00" y1="220.40" x2="69.00" y2="224.60" stroke="#1a1a1a" stroke-width="1.2"/>
<line x1="66.40" y1="224.60" x2="71.60" y2="224.60" stroke="#1a1a1a" stroke-width="1.6"/>
<line x1="87.00" y1="202.30" x2="87.00" y2="208.10" stroke="#1a1a1a" stroke-width="1.2"/>
<line x1="84.40" y1="208.10" x2="89.60" y2="208.10" stroke="#1a1a1a" stroke-width="1.6"/>
<line x1="95.40" y1="173.20" x2="95.40" y2="180.50" stroke="#1a1a1a" stroke-width="1.2"/>
<line x1="92.80" y1="180.50" x2="98.00" y2="180.50" stroke="#1a1a1a" stroke-width="1.6"/>
<line x1="104.60" y1="168.50" x2="104.60" y2="177.30" stroke="#1a1a1a" stroke-width="1.2"/>
<line x1="102.00" y1="177.30" x2="107.20" y2="177.30" stroke="#1a1a1a" stroke-width="1.6"/>
<line x1="122.40" y1="185.00" x2="122.40" y2="193.30" stroke="#1a1a1a" stroke-width="1.2"/>
<line x1="119.80" y1="193.30" x2="125.00" y2="193.30" stroke="#1a1a1a" stroke-width="1.6"/>
<line x1="157.50" y1="213.00" x2="157.50" y2="218.10" stroke="#1a1a1a" stroke-width="1.2"/>
<line x1="154.90" y1="218.10" x2="160.10" y2="218.10" stroke="#1a1a1a" stroke-width="1.6"/>
<circle cx="51.00" cy="222.80" r="2.9" fill="#fff" stroke="#1a1a1a" stroke-width="1.15"/>
<circle cx="69.00" cy="220.40" r="2.9" fill="#fff" stroke="#1a1a1a" stroke-width="1.15"/>
<circle cx="73.40" cy="216.50" r="2.9" fill="#fff" stroke="#1a1a1a" stroke-width="1.15"/>
<circle cx="78.00" cy="209.50" r="2.9" fill="#fff" stroke="#1a1a1a" stroke-width="1.15"/>
<circle cx="82.50" cy="214.00" r="2.9" fill="#fff" stroke="#1a1a1a" stroke-width="1.15"/>
<circle cx="87.00" cy="202.30" r="2.9" fill="#fff" stroke="#1a1a1a" stroke-width="1.15"/>
<circle cx="95.40" cy="173.20" r="2.9" fill="#fff" stroke="#1a1a1a" stroke-width="1.15"/>
<circle cx="104.60" cy="168.50" r="2.9" fill="#fff" stroke="#1a1a1a" stroke-width="1.15"/>
<circle cx="122.40" cy="185.00" r="2.9" fill="#fff" stroke="#1a1a1a" stroke-width="1.15"/>
<circle cx="157.50" cy="213.00" r="2.9" fill="#fff" stroke="#1a1a1a" stroke-width="1.15"/>
<circle cx="246.00" cy="227.70" r="2.9" fill="#fff" stroke="#1a1a1a" stroke-width="1.15"/>
<circle cx="51.00" cy="227.30" r="3.5" fill="#111"/>
<circle cx="69.00" cy="217.00" r="3.5" fill="#111"/>
<circle cx="73.30" cy="213.50" r="3.5" fill="#111"/>
<circle cx="78.00" cy="207.60" r="3.5" fill="#111"/>
<circle cx="82.50" cy="218.90" r="3.5" fill="#111"/>
<circle cx="86.50" cy="177.70" r="3.5" fill="#111"/>
<circle cx="95.70" cy="148.80" r="3.5" fill="#111"/>
<circle cx="104.60" cy="159.60" r="3.5" fill="#111"/>
<circle cx="122.40" cy="177.80" r="3.5" fill="#111"/>
<circle cx="157.50" cy="192.70" r="3.5" fill="#111"/>
<circle cx="246.00" cy="220.50" r="3.5" fill="#111"/>
<line x1="302.20" y1="235.10" x2="331.30" y2="228.00" stroke="#1a1a1a" stroke-width="1.25"/>
<line x1="302.20" y1="237.90" x2="331.30" y2="228.50" stroke="#1a1a1a" stroke-width="1.25"/>
<line x1="331.30" y1="228.50" x2="336.20" y2="222.00" stroke="#1a1a1a" stroke-width="1.25"/>
<line x1="336.20" y1="222.00" x2="341.00" y2="224.10" stroke="#1a1a1a" stroke-width="1.25"/>
<line x1="341.00" y1="224.10" x2="345.00" y2="226.00" stroke="#1a1a1a" stroke-width="1.25"/>
<line x1="345.00" y1="226.00" x2="349.20" y2="207.70" stroke="#1a1a1a" stroke-width="1.25"/>
<line x1="349.20" y1="207.70" x2="358.20" y2="182.30" stroke="#1a1a1a" stroke-width="1.25"/>
<line x1="358.20" y1="182.30" x2="367.10" y2="161.30" stroke="#1a1a1a" stroke-width="1.25"/>
<line x1="367.10" y1="161.30" x2="385.00" y2="176.30" stroke="#1a1a1a" stroke-width="1.25"/>
<line x1="385.00" y1="176.30" x2="420.20" y2="198.70" stroke="#1a1a1a" stroke-width="1.25"/>
<line x1="420.20" y1="198.70" x2="508.00" y2="224.10" stroke="#1a1a1a" stroke-width="1.25"/>
<line x1="331.30" y1="228.00" x2="336.20" y2="225.60" stroke="#1a1a1a" stroke-width="1.25"/>
<line x1="336.20" y1="225.60" x2="341.00" y2="226.20" stroke="#1a1a1a" stroke-width="1.25"/>
<line x1="341.00" y1="226.20" x2="345.00" y2="228.60" stroke="#1a1a1a" stroke-width="1.25"/>
<line x1="345.00" y1="228.60" x2="349.20" y2="183.80" stroke="#1a1a1a" stroke-width="1.25"/>
<line x1="349.20" y1="183.80" x2="358.20" y2="162.80" stroke="#1a1a1a" stroke-width="1.25"/>
<line x1="358.20" y1="162.80" x2="367.10" y2="151.50" stroke="#1a1a1a" stroke-width="1.25"/>
<line x1="367.10" y1="151.50" x2="385.00" y2="182.60" stroke="#1a1a1a" stroke-width="1.25"/>
<line x1="385.00" y1="182.60" x2="420.20" y2="202.30" stroke="#1a1a1a" stroke-width="1.25"/>
<line x1="420.20" y1="202.30" x2="508.00" y2="224.10" stroke="#1a1a1a" stroke-width="1.25"/>
<line x1="349.20" y1="183.80" x2="349.20" y2="176.30" stroke="#1a1a1a" stroke-width="1.2"/>
<line x1="346.60" y1="176.30" x2="351.80" y2="176.30" stroke="#1a1a1a" stroke-width="1.6"/>
<line x1="358.20" y1="162.80" x2="358.20" y2="153.90" stroke="#1a1a1a" stroke-width="1.2"/>
<line x1="355.60" y1="153.90" x2="360.80" y2="153.90" stroke="#1a1a1a" stroke-width="1.6"/>
<line x1="367.10" y1="151.50" x2="367.10" y2="145.50" stroke="#1a1a1a" stroke-width="1.2"/>
<line x1="364.50" y1="145.50" x2="369.70" y2="145.50" stroke="#1a1a1a" stroke-width="1.6"/>
<line x1="508.00" y1="224.10" x2="508.00" y2="219.00" stroke="#1a1a1a" stroke-width="1.2"/>
<line x1="505.40" y1="219.00" x2="510.60" y2="219.00" stroke="#1a1a1a" stroke-width="1.6"/>
<line x1="345.00" y1="228.60" x2="345.00" y2="235.10" stroke="#1a1a1a" stroke-width="1.2"/>
<line x1="342.40" y1="235.10" x2="347.60" y2="235.10" stroke="#1a1a1a" stroke-width="1.6"/>
<line x1="358.20" y1="182.30" x2="358.20" y2="186.70" stroke="#1a1a1a" stroke-width="1.2"/>
<line x1="355.60" y1="186.70" x2="360.80" y2="186.70" stroke="#1a1a1a" stroke-width="1.6"/>
<line x1="367.10" y1="161.30" x2="367.10" y2="168.20" stroke="#1a1a1a" stroke-width="1.2"/>
<line x1="364.50" y1="168.20" x2="369.70" y2="168.20" stroke="#1a1a1a" stroke-width="1.6"/>
<line x1="420.20" y1="202.30" x2="420.20" y2="208.30" stroke="#1a1a1a" stroke-width="1.2"/>
<line x1="417.60" y1="208.30" x2="422.80" y2="208.30" stroke="#1a1a1a" stroke-width="1.6"/>
<circle cx="331.30" cy="228.50" r="2.9" fill="#fff" stroke="#1a1a1a" stroke-width="1.15"/>
<circle cx="336.20" cy="222.00" r="2.9" fill="#fff" stroke="#1a1a1a" stroke-width="1.15"/>
<circle cx="341.00" cy="224.10" r="2.9" fill="#fff" stroke="#1a1a1a" stroke-width="1.15"/>
<circle cx="345.00" cy="226.00" r="2.9" fill="#fff" stroke="#1a1a1a" stroke-width="1.15"/>
<circle cx="349.20" cy="207.70" r="2.9" fill="#fff" stroke="#1a1a1a" stroke-width="1.15"/>
<circle cx="358.20" cy="182.30" r="2.9" fill="#fff" stroke="#1a1a1a" stroke-width="1.15"/>
<circle cx="367.10" cy="161.30" r="2.9" fill="#fff" stroke="#1a1a1a" stroke-width="1.15"/>
<circle cx="385.00" cy="176.30" r="2.9" fill="#fff" stroke="#1a1a1a" stroke-width="1.15"/>
<circle cx="420.20" cy="198.70" r="2.9" fill="#fff" stroke="#1a1a1a" stroke-width="1.15"/>
<circle cx="508.00" cy="224.10" r="2.9" fill="#fff" stroke="#1a1a1a" stroke-width="1.15"/>
<circle cx="331.30" cy="228.00" r="3.5" fill="#111"/>
<circle cx="336.20" cy="225.60" r="3.5" fill="#111"/>
<circle cx="341.00" cy="226.20" r="3.5" fill="#111"/>
<circle cx="345.00" cy="228.60" r="3.5" fill="#111"/>
<circle cx="349.20" cy="183.80" r="3.5" fill="#111"/>
<circle cx="358.20" cy="162.80" r="3.5" fill="#111"/>
<circle cx="367.10" cy="151.50" r="3.5" fill="#111"/>
<circle cx="385.00" cy="182.60" r="3.5" fill="#111"/>
<circle cx="420.20" cy="202.30" r="3.5" fill="#111"/>
<circle cx="508.00" cy="224.10" r="3.5" fill="#111"/>
<circle cx="296.90" cy="242.00" r="2.9" fill="#fff" stroke="#1a1a1a" stroke-width="1.15"/>
<circle cx="296.90" cy="237.50" r="3.5" fill="#111"/>
<line x1="309.30" y1="239.15" x2="315.70" y2="228.65" stroke="#1a1a1a" stroke-width="1.0"/>
<line x1="311.90" y1="239.15" x2="318.30" y2="228.65" stroke="#1a1a1a" stroke-width="1.0"/>
<line x1="50.50" y1="300.00" x2="67.30" y2="287.30" stroke="#1a1a1a" stroke-width="1.25"/>
<line x1="67.30" y1="287.30" x2="71.20" y2="294.00" stroke="#1a1a1a" stroke-width="1.25"/>
<line x1="71.20" y1="294.00" x2="76.50" y2="283.30" stroke="#1a1a1a" stroke-width="1.25"/>
<line x1="76.50" y1="283.30" x2="80.80" y2="281.00" stroke="#1a1a1a" stroke-width="1.25"/>
<line x1="80.80" y1="281.00" x2="85.10" y2="302.60" stroke="#1a1a1a" stroke-width="1.25"/>
<line x1="85.10" y1="302.60" x2="94.40" y2="317.70" stroke="#1a1a1a" stroke-width="1.25"/>
<line x1="94.40" y1="317.70" x2="103.70" y2="316.00" stroke="#1a1a1a" stroke-width="1.25"/>
<line x1="103.70" y1="316.00" x2="121.40" y2="334.20" stroke="#1a1a1a" stroke-width="1.25"/>
<line x1="121.40" y1="334.20" x2="157.00" y2="328.20" stroke="#1a1a1a" stroke-width="1.25"/>
<line x1="157.00" y1="328.20" x2="245.60" y2="310.90" stroke="#1a1a1a" stroke-width="1.25"/>
<line x1="50.50" y1="309.20" x2="67.80" y2="298.90" stroke="#1a1a1a" stroke-width="1.25"/>
<line x1="67.80" y1="298.90" x2="72.20" y2="302.20" stroke="#1a1a1a" stroke-width="1.25"/>
<line x1="72.20" y1="302.20" x2="77.00" y2="288.80" stroke="#1a1a1a" stroke-width="1.25"/>
<line x1="77.00" y1="288.80" x2="80.80" y2="277.00" stroke="#1a1a1a" stroke-width="1.25"/>
<line x1="80.80" y1="277.00" x2="86.00" y2="284.50" stroke="#1a1a1a" stroke-width="1.25"/>
<line x1="86.00" y1="284.50" x2="94.20" y2="305.00" stroke="#1a1a1a" stroke-width="1.25"/>
<line x1="94.20" y1="305.00" x2="103.70" y2="320.70" stroke="#1a1a1a" stroke-width="1.25"/>
<line x1="103.70" y1="320.70" x2="121.40" y2="336.60" stroke="#1a1a1a" stroke-width="1.25"/>
<line x1="121.40" y1="336.60" x2="157.00" y2="331.70" stroke="#1a1a1a" stroke-width="1.25"/>
<line x1="157.00" y1="331.70" x2="245.60" y2="322.30" stroke="#1a1a1a" stroke-width="1.25"/>
<line x1="80.80" y1="277.00" x2="80.80" y2="263.70" stroke="#1a1a1a" stroke-width="1.2"/>
<line x1="78.20" y1="263.70" x2="83.40" y2="263.70" stroke="#1a1a1a" stroke-width="1.6"/>
<line x1="86.00" y1="284.50" x2="86.00" y2="269.80" stroke="#1a1a1a" stroke-width="1.2"/>
<line x1="83.40" y1="269.80" x2="88.60" y2="269.80" stroke="#1a1a1a" stroke-width="1.6"/>
<line x1="94.20" y1="305.00" x2="94.20" y2="292.20" stroke="#1a1a1a" stroke-width="1.2"/>
<line x1="91.60" y1="292.20" x2="96.80" y2="292.20" stroke="#1a1a1a" stroke-width="1.6"/>
<line x1="103.70" y1="320.70" x2="103.70" y2="309.00" stroke="#1a1a1a" stroke-width="1.2"/>
<line x1="101.10" y1="309.00" x2="106.30" y2="309.00" stroke="#1a1a1a" stroke-width="1.6"/>
<line x1="121.40" y1="336.60" x2="121.40" y2="330.50" stroke="#1a1a1a" stroke-width="1.2"/>
<line x1="118.80" y1="330.50" x2="124.00" y2="330.50" stroke="#1a1a1a" stroke-width="1.6"/>
<line x1="157.00" y1="331.70" x2="157.00" y2="318.30" stroke="#1a1a1a" stroke-width="1.2"/>
<line x1="154.40" y1="318.30" x2="159.60" y2="318.30" stroke="#1a1a1a" stroke-width="1.6"/>
<line x1="245.60" y1="322.30" x2="245.60" y2="315.70" stroke="#1a1a1a" stroke-width="1.2"/>
<line x1="243.00" y1="315.70" x2="248.20" y2="315.70" stroke="#1a1a1a" stroke-width="1.6"/>
<line x1="85.10" y1="302.60" x2="85.10" y2="313.30" stroke="#1a1a1a" stroke-width="1.2"/>
<line x1="82.50" y1="313.30" x2="87.70" y2="313.30" stroke="#1a1a1a" stroke-width="1.6"/>
<line x1="94.40" y1="317.70" x2="94.40" y2="333.00" stroke="#1a1a1a" stroke-width="1.2"/>
<line x1="91.80" y1="333.00" x2="97.00" y2="333.00" stroke="#1a1a1a" stroke-width="1.6"/>
<line x1="121.40" y1="334.20" x2="121.40" y2="351.30" stroke="#1a1a1a" stroke-width="1.2"/>
<line x1="118.80" y1="351.30" x2="124.00" y2="351.30" stroke="#1a1a1a" stroke-width="1.6"/>
<line x1="157.00" y1="328.20" x2="157.00" y2="338.60" stroke="#1a1a1a" stroke-width="1.2"/>
<line x1="154.40" y1="338.60" x2="159.60" y2="338.60" stroke="#1a1a1a" stroke-width="1.6"/>
<circle cx="50.50" cy="300.00" r="2.9" fill="#fff" stroke="#1a1a1a" stroke-width="1.15"/>
<circle cx="67.30" cy="287.30" r="2.9" fill="#fff" stroke="#1a1a1a" stroke-width="1.15"/>
<circle cx="71.20" cy="294.00" r="2.9" fill="#fff" stroke="#1a1a1a" stroke-width="1.15"/>
<circle cx="76.50" cy="283.30" r="2.9" fill="#fff" stroke="#1a1a1a" stroke-width="1.15"/>
<circle cx="80.80" cy="281.00" r="2.9" fill="#fff" stroke="#1a1a1a" stroke-width="1.15"/>
<circle cx="85.10" cy="302.60" r="2.9" fill="#fff" stroke="#1a1a1a" stroke-width="1.15"/>
<circle cx="94.40" cy="317.70" r="2.9" fill="#fff" stroke="#1a1a1a" stroke-width="1.15"/>
<circle cx="103.70" cy="316.00" r="2.9" fill="#fff" stroke="#1a1a1a" stroke-width="1.15"/>
<circle cx="121.40" cy="334.20" r="2.9" fill="#fff" stroke="#1a1a1a" stroke-width="1.15"/>
<circle cx="157.00" cy="328.20" r="2.9" fill="#fff" stroke="#1a1a1a" stroke-width="1.15"/>
<circle cx="245.60" cy="310.90" r="2.9" fill="#fff" stroke="#1a1a1a" stroke-width="1.15"/>
<circle cx="50.50" cy="309.20" r="3.5" fill="#111"/>
<circle cx="67.80" cy="298.90" r="3.5" fill="#111"/>
<circle cx="72.20" cy="302.20" r="3.5" fill="#111"/>
<circle cx="77.00" cy="288.80" r="3.5" fill="#111"/>
<circle cx="80.80" cy="277.00" r="3.5" fill="#111"/>
<circle cx="86.00" cy="284.50" r="3.5" fill="#111"/>
<circle cx="94.20" cy="305.00" r="3.5" fill="#111"/>
<circle cx="103.70" cy="320.70" r="3.5" fill="#111"/>
<circle cx="121.40" cy="336.60" r="3.5" fill="#111"/>
<circle cx="157.00" cy="331.70" r="3.5" fill="#111"/>
<circle cx="245.60" cy="322.30" r="3.5" fill="#111"/>
<line x1="301.80" y1="297.00" x2="331.20" y2="319.00" stroke="#1a1a1a" stroke-width="1.25"/>
<line x1="301.80" y1="291.10" x2="331.20" y2="312.50" stroke="#1a1a1a" stroke-width="1.25"/>
<line x1="331.20" y1="312.50" x2="335.30" y2="326.00" stroke="#1a1a1a" stroke-width="1.25"/>
<line x1="335.30" y1="326.00" x2="339.80" y2="304.40" stroke="#1a1a1a" stroke-width="1.25"/>
<line x1="339.80" y1="304.40" x2="343.60" y2="304.40" stroke="#1a1a1a" stroke-width="1.25"/>
<line x1="343.60" y1="304.40" x2="348.00" y2="305.00" stroke="#1a1a1a" stroke-width="1.25"/>
<line x1="348.00" y1="305.00" x2="357.30" y2="320.70" stroke="#1a1a1a" stroke-width="1.25"/>
<line x1="357.30" y1="320.70" x2="366.00" y2="330.70" stroke="#1a1a1a" stroke-width="1.25"/>
<line x1="366.00" y1="330.70" x2="383.60" y2="336.50" stroke="#1a1a1a" stroke-width="1.25"/>
<line x1="383.60" y1="336.50" x2="419.30" y2="326.70" stroke="#1a1a1a" stroke-width="1.25"/>
<line x1="419.30" y1="326.70" x2="506.80" y2="321.30" stroke="#1a1a1a" stroke-width="1.25"/>
<line x1="331.20" y1="319.00" x2="335.30" y2="323.70" stroke="#1a1a1a" stroke-width="1.25"/>
<line x1="335.30" y1="323.70" x2="339.80" y2="290.40" stroke="#1a1a1a" stroke-width="1.25"/>
<line x1="339.80" y1="290.40" x2="344.20" y2="274.80" stroke="#1a1a1a" stroke-width="1.25"/>
<line x1="344.20" y1="274.80" x2="348.50" y2="302.00" stroke="#1a1a1a" stroke-width="1.25"/>
<line x1="348.50" y1="302.00" x2="357.50" y2="311.00" stroke="#1a1a1a" stroke-width="1.25"/>
<line x1="357.50" y1="311.00" x2="366.00" y2="336.20" stroke="#1a1a1a" stroke-width="1.25"/>
<line x1="366.00" y1="336.20" x2="383.60" y2="324.40" stroke="#1a1a1a" stroke-width="1.25"/>
<line x1="383.60" y1="324.40" x2="419.30" y2="319.20" stroke="#1a1a1a" stroke-width="1.25"/>
<line x1="419.30" y1="319.20" x2="506.80" y2="321.30" stroke="#1a1a1a" stroke-width="1.25"/>
<line x1="339.80" y1="290.40" x2="339.80" y2="285.00" stroke="#1a1a1a" stroke-width="1.2"/>
<line x1="337.20" y1="285.00" x2="342.40" y2="285.00" stroke="#1a1a1a" stroke-width="1.6"/>
<line x1="344.20" y1="274.80" x2="344.20" y2="264.70" stroke="#1a1a1a" stroke-width="1.2"/>
<line x1="341.60" y1="264.70" x2="346.80" y2="264.70" stroke="#1a1a1a" stroke-width="1.6"/>
<line x1="348.50" y1="302.00" x2="348.50" y2="295.00" stroke="#1a1a1a" stroke-width="1.2"/>
<line x1="345.90" y1="295.00" x2="351.10" y2="295.00" stroke="#1a1a1a" stroke-width="1.6"/>
<line x1="357.50" y1="311.00" x2="357.50" y2="300.40" stroke="#1a1a1a" stroke-width="1.2"/>
<line x1="354.90" y1="300.40" x2="360.10" y2="300.40" stroke="#1a1a1a" stroke-width="1.6"/>
<line x1="383.60" y1="324.40" x2="383.60" y2="313.20" stroke="#1a1a1a" stroke-width="1.2"/>
<line x1="381.00" y1="313.20" x2="386.20" y2="313.20" stroke="#1a1a1a" stroke-width="1.6"/>
<line x1="419.30" y1="319.20" x2="419.30" y2="313.20" stroke="#1a1a1a" stroke-width="1.2"/>
<line x1="416.70" y1="313.20" x2="421.90" y2="313.20" stroke="#1a1a1a" stroke-width="1.6"/>
<line x1="506.80" y1="321.30" x2="506.80" y2="314.70" stroke="#1a1a1a" stroke-width="1.2"/>
<line x1="504.20" y1="314.70" x2="509.40" y2="314.70" stroke="#1a1a1a" stroke-width="1.6"/>
<line x1="335.30" y1="326.00" x2="335.30" y2="334.50" stroke="#1a1a1a" stroke-width="1.2"/>
<line x1="332.70" y1="334.50" x2="337.90" y2="334.50" stroke="#1a1a1a" stroke-width="1.6"/>
<line x1="339.80" y1="304.40" x2="339.80" y2="310.00" stroke="#1a1a1a" stroke-width="1.2"/>
<line x1="337.20" y1="310.00" x2="342.40" y2="310.00" stroke="#1a1a1a" stroke-width="1.6"/>
<line x1="357.30" y1="320.70" x2="357.30" y2="332.00" stroke="#1a1a1a" stroke-width="1.2"/>
<line x1="354.70" y1="332.00" x2="359.90" y2="332.00" stroke="#1a1a1a" stroke-width="1.6"/>
<line x1="383.60" y1="336.50" x2="383.60" y2="347.30" stroke="#1a1a1a" stroke-width="1.2"/>
<line x1="381.00" y1="347.30" x2="386.20" y2="347.30" stroke="#1a1a1a" stroke-width="1.6"/>
<line x1="419.30" y1="326.70" x2="419.30" y2="335.00" stroke="#1a1a1a" stroke-width="1.2"/>
<line x1="416.70" y1="335.00" x2="421.90" y2="335.00" stroke="#1a1a1a" stroke-width="1.6"/>
<line x1="506.80" y1="321.30" x2="506.80" y2="331.10" stroke="#1a1a1a" stroke-width="1.2"/>
<line x1="504.20" y1="331.10" x2="509.40" y2="331.10" stroke="#1a1a1a" stroke-width="1.6"/>
<circle cx="331.20" cy="312.50" r="2.9" fill="#fff" stroke="#1a1a1a" stroke-width="1.15"/>
<circle cx="335.30" cy="326.00" r="2.9" fill="#fff" stroke="#1a1a1a" stroke-width="1.15"/>
<circle cx="339.80" cy="304.40" r="2.9" fill="#fff" stroke="#1a1a1a" stroke-width="1.15"/>
<circle cx="343.60" cy="304.40" r="2.9" fill="#fff" stroke="#1a1a1a" stroke-width="1.15"/>
<circle cx="348.00" cy="305.00" r="2.9" fill="#fff" stroke="#1a1a1a" stroke-width="1.15"/>
<circle cx="357.30" cy="320.70" r="2.9" fill="#fff" stroke="#1a1a1a" stroke-width="1.15"/>
<circle cx="366.00" cy="330.70" r="2.9" fill="#fff" stroke="#1a1a1a" stroke-width="1.15"/>
<circle cx="383.60" cy="336.50" r="2.9" fill="#fff" stroke="#1a1a1a" stroke-width="1.15"/>
<circle cx="419.30" cy="326.70" r="2.9" fill="#fff" stroke="#1a1a1a" stroke-width="1.15"/>
<circle cx="506.80" cy="321.30" r="2.9" fill="#fff" stroke="#1a1a1a" stroke-width="1.15"/>
<circle cx="331.20" cy="319.00" r="3.5" fill="#111"/>
<circle cx="335.30" cy="323.70" r="3.5" fill="#111"/>
<circle cx="339.80" cy="290.40" r="3.5" fill="#111"/>
<circle cx="344.20" cy="274.80" r="3.5" fill="#111"/>
<circle cx="348.50" cy="302.00" r="3.5" fill="#111"/>
<circle cx="357.50" cy="311.00" r="3.5" fill="#111"/>
<circle cx="366.00" cy="336.20" r="3.5" fill="#111"/>
<circle cx="383.60" cy="324.40" r="3.5" fill="#111"/>
<circle cx="419.30" cy="319.20" r="3.5" fill="#111"/>
<circle cx="506.80" cy="321.30" r="3.5" fill="#111"/>
<circle cx="296.30" cy="287.80" r="2.9" fill="#fff" stroke="#1a1a1a" stroke-width="1.15"/>
<rect x="293.10" y="290.30" width="6.40" height="6.40" rx="1.2" fill="#111"/>
<rect x="363.00" y="333.20" width="6.00" height="6.00" rx="1.2" fill="#111"/>
<line x1="309.30" y1="307.75" x2="315.70" y2="297.25" stroke="#1a1a1a" stroke-width="1.0"/>
<line x1="311.90" y1="307.75" x2="318.30" y2="297.25" stroke="#1a1a1a" stroke-width="1.0"/>
<line x1="309.80" y1="128.05" x2="316.20" y2="117.55" stroke="#1a1a1a" stroke-width="1.0"/>
<line x1="312.40" y1="128.05" x2="318.80" y2="117.55" stroke="#1a1a1a" stroke-width="1.0"/>
<line x1="309.30" y1="251.55" x2="315.70" y2="241.05" stroke="#1a1a1a" stroke-width="1.0"/>
<line x1="311.90" y1="251.55" x2="318.30" y2="241.05" stroke="#1a1a1a" stroke-width="1.0"/>
<line x1="309.10" y1="373.75" x2="315.50" y2="363.25" stroke="#1a1a1a" stroke-width="1.0"/>
<line x1="311.70" y1="373.75" x2="318.10" y2="363.25" stroke="#1a1a1a" stroke-width="1.0"/>
</svg>
</body></html>
